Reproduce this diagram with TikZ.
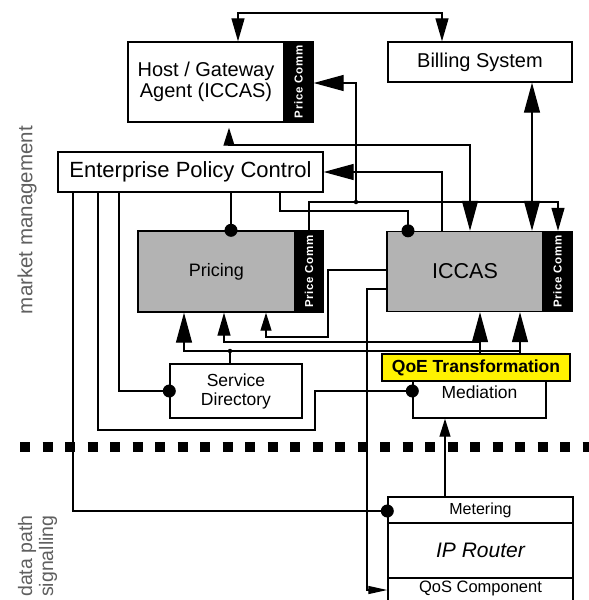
\documentclass[tikz,border=0pt]{standalone}
\usepackage{fontspec}
\setmainfont{Liberation Sans}
\newfontfamily\pcfont[LetterSpace=6]{Liberation Sans}
\usetikzlibrary{arrows.meta}
\definecolor{boxgray}{RGB}{179,179,179}
\definecolor{sidegray}{RGB}{95,95,95}
\newcommand\fsz[2]{\fontsize{#1}{#2}\selectfont}
\begin{document}
\begin{tikzpicture}[x=1pt,y=-1pt,
  box/.style={draw, line width=1.4pt, inner sep=0pt, align=center},
  pc/.style={fill=black, draw=black, line width=1.4pt, inner sep=0pt, text=white, font=\pcfont\fsz{11.5}{12}\bfseries},
  wire/.style={line width=1.3pt},
  dot/.style={circle, fill=black, inner sep=0pt, minimum size=13pt},
  jdot/.style={circle, fill=black, inner sep=0pt, minimum size=4.5pt},
  side/.style={rotate=90, text=sidegray, inner sep=0pt, font=\fsz{19.5}{20}},
  BigT/.tip={Triangle[length=30pt,width=16pt]},
  MedT/.tip={Triangle[length=23pt,width=13pt]},
  SmlT/.tip={Triangle[length=18pt,width=11pt]},
  ThinT/.tip={Triangle[length=19pt,width=8pt]}]
\useasboundingbox (0,0) rectangle (589,600);
\clip (0,0) rectangle (589,600);

% side labels
\node[side, font=\fsz{20.5}{21}] (mm) at (27,220) {market management};
\node[side, anchor=west] (dp) at (27,597) {data path};
\node[side, anchor=west] (sg) at (48,597) {signalling};

% separator
\draw[line width=10pt, dash pattern=on 10pt off 12.5pt] (20,447) -- (600,447);

% boxes
\node[box, minimum width=156pt, minimum height=80pt, font=\fsz{20}{20.5}] (host) at (206,82) {Host / Gateway\\Agent (ICCAS)};
\node[pc, minimum width=29pt, minimum height=80pt] (hostpc) at (298.5,82) {\rotatebox{90}{Price Comm}};
\node[box, minimum width=184pt, minimum height=40pt, font=\fsz{20}{22}] (billing) at (480,62) {Billing System};
\node[box, minimum width=265pt, minimum height=40pt, font=\fsz{22}{24}] (epc) at (190.5,172) {Enterprise Policy Control};
\node[box, fill=boxgray, minimum width=157pt, minimum height=81pt, font=\fsz{18}{20}] (pricing) at (216.5,271.5) {Pricing};
\node[pc, minimum width=28pt, minimum height=81pt] (pricingpc) at (309,271.5) {\rotatebox{90}{Price Comm}};
\node[box, fill=boxgray, minimum width=156pt, minimum height=80pt, font=\fsz{21.5}{24}] (iccas) at (465,271.5) {ICCAS};
\node[pc, minimum width=29pt, minimum height=80pt] (iccaspc) at (557.5,271.5) {\rotatebox{90}{Price Comm}};
\node[box, minimum width=132pt, minimum height=54pt, font=\fsz{17.5}{19}] (sd) at (236,391) {Service\\Directory};
\node[box, minimum width=133pt, minimum height=52pt, font=\fsz{17.5}{20}] (med) at (479.5,392) {Mediation};
\node[box, fill=yellow, minimum width=188pt, minimum height=27pt, font=\fsz{17.5}{20}\bfseries] (qoe) at (476,367.5) {QoE Transformation};
\node[box, minimum width=185pt, minimum height=26pt, font=\fsz{16}{18}] (metering) at (480.5,510) {Metering};
\node[box, minimum width=185pt, minimum height=55pt, font=\fsz{21}{24}\itshape] (iprouter) at (480.5,550.5) {IP Router};
\node[box, minimum width=185pt, minimum height=30pt, anchor=north,
  label={[anchor=north, inner sep=0pt, yshift=-2.5pt, font=\fsz{16.5}{18}]north:QoS Component}] (qos) at (480.5,578) {};

% connectors
\draw[wire, MedT-MedT] (238,0 |- host.north) -- (238,13) -- (442,13) -- (442,0 |- billing.north);
\draw[wire, BigT-BigT] (532,0 |- billing.south) -- (532,0 |- iccas.north);
\coordinate (j1) at (356,202);
\draw[wire, -MedT] (pricingpc.north) -- (309,202) -- (558,202) -- (558,0 |- iccaspc.north);
\draw[wire, -BigT] (j1) -- (356,83) -- (hostpc.east |- 0,83);
\node[jdot] (j1d) at (j1) {};
\draw[wire, -BigT] (442,0 |- iccas.north) -- (442,172) -- (epc.east);
\draw[wire, SmlT-BigT, shorten <=5pt] (229,0 |- host.south) -- (229,145) -- (470,145) -- (470,0 |- iccas.north);
\draw[wire] (231,0 |- epc.south) -- (231,0 |- pricing.north) node[dot] (d1) {};
\draw[wire] (280,0 |- epc.south) -- (280,211) -- (408,211) -- (408,0 |- iccas.north) node[dot] (d2) {};
\draw[wire, -SmlT] (iccas.west |- 0,270) -- (328,270) -- (328,337) -- (266,337) -- (266,0 |- pricing.south);
\draw[wire, -ThinT] (iccas.west |- 0,289) -- (367,289) -- (367,590) -- (qos.west |- 0,590);
\draw[wire, -BigT] (480,0 |- qoe.north) -- (480,0 |- iccas.south);
\draw[wire, -MedT] (480,342) -- (224,342) -- (224,0 |- pricing.south);
\draw[wire, -BigT] (520,0 |- qoe.north) -- (520,0 |- iccas.south);
\draw[wire, -BigT] (520,351) -- (184,351) -- (184,0 |- pricing.south);
\draw[wire] (230,0 |- sd.north) -- (230,351) node[jdot] (j2) {};
\draw[wire] (119,0 |- epc.south) -- (119,391) -- (sd.west) node[dot] (d3) {};
\draw[wire] (98,0 |- epc.south) -- (98,430) -- (315,430) -- (315,391) -- (med.west |- 0,391) node[dot] (d4) {};
\draw[wire] (73,0 |- epc.south) -- (73,511) -- (metering.west |- 0,511) node[dot] (d5) {};
\draw[wire, -SmlT] (445,0 |- metering.north) -- (445,0 |- med.south);
\end{tikzpicture}
\end{document}
